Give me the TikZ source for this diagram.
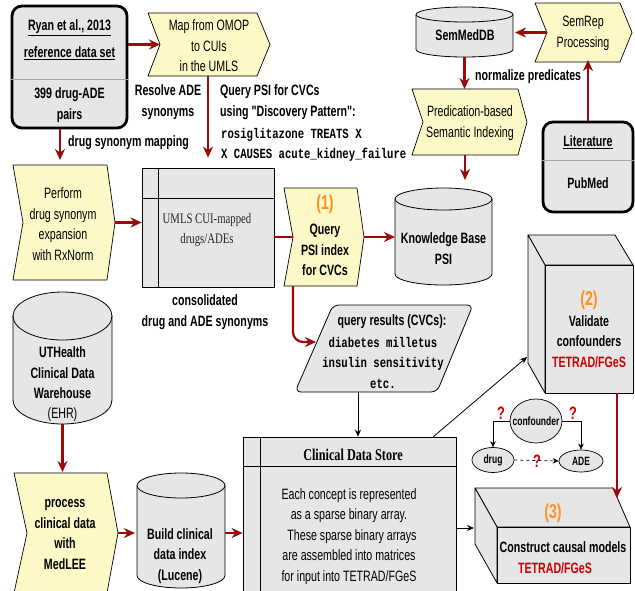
\documentclass[tikz,border=0pt]{standalone}
\usepackage{fontspec}
\usetikzlibrary{arrows.meta,calc,shapes.geometric}
\newfontfamily\cf{Liberation Sans}[FakeStretch=0.71]
\newfontfamily\mf{Liberation Mono}[FakeStretch=0.76]
\newfontfamily\srf{Liberation Serif}[FakeStretch=0.74]
\definecolor{gr}{HTML}{E6E6E6}
\definecolor{yel}{HTML}{FCF9C6}
\definecolor{dred}{HTML}{9B0A0A}
\definecolor{orng}{HTML}{FF9021}
\definecolor{tred}{HTML}{CC0000}
% chevron: name, cx, cy, w, h, notch, point
\newcommand\mychev[7]{%
  \node[inner sep=0pt, outer sep=0pt, minimum width=#4pt, minimum height=#5pt] (#1) at (#2,#3) {};
  \draw[line width=0.7pt, fill=yel, line join=round] (#1.north west) -- (#1.north east) -- ([xshift=#7pt]#1.east) -- (#1.south east) -- (#1.south west) -- ([xshift=#6pt]#1.west) -- cycle;
  \coordinate (#1-in) at ([xshift=#6pt]#1.west);
  \coordinate (#1-out) at ([xshift=#7pt]#1.east);
}
% cylinder: name, cx, cy, w, h, ry
\newcommand\mycyl[6]{%
  \node[inner sep=0pt, outer sep=0pt, minimum width=#4pt, minimum height=#5pt] (#1) at (#2,#3) {};
  \draw[line width=0.8pt, fill=gr] ([yshift=-#6pt]#1.north west) -- ([yshift=#6pt]#1.south west)
    arc[start angle=180, end angle=360, x radius=#4pt/2, y radius=#6pt]
    -- ([yshift=-#6pt]#1.north east)
    arc[start angle=0, end angle=180, x radius=#4pt/2, y radius=#6pt] -- cycle;
  \draw[line width=0.8pt] ([yshift=-#6pt]#1.north west) arc[start angle=180, end angle=360, x radius=#4pt/2, y radius=#6pt];
}
\begin{document}
\begin{tikzpicture}[x=1pt,y=-1pt,
  t/.style={inner sep=0pt, align=center, font=\cf\fontsize{15}{20.5}\selectfont},
  tb/.style={inner sep=0pt, align=center, font=\cf\bfseries\fontsize{15}{20.5}\selectfont},
  tm/.style={inner sep=0pt, align=left, font=\mf\bfseries\fontsize{14}{20.5}\selectfont},
  tmc/.style={inner sep=0pt, align=center, font=\mf\bfseries\fontsize{14}{20.5}\selectfont},
  num/.style={inner sep=0pt, text=orng, font=\cf\bfseries\fontsize{20}{22}\selectfont},
  tet/.style={inner sep=0pt, text=tred, font=\cf\bfseries\fontsize{15}{20}\selectfont},
  qm/.style={inner sep=0pt, text=tred, font=\cf\bfseries\fontsize{18}{20}\selectfont},
  small/.style={inner sep=0pt, font=\cf\bfseries\fontsize{12}{13}\selectfont},
  box/.style={draw=black, line width=0.8pt, fill=gr, line join=round},
  rbox/.style={draw=black, line width=2.8pt, fill=gr, rounded corners=10pt, inner sep=0pt},
  ell/.style={draw=black, line width=0.7pt, fill=gr, ellipse, inner sep=0pt},
  rarr/.style={draw=dred, line width=2.2pt, -{Stealth[length=11pt,width=10pt]}},
  rline/.style={draw=dred, line width=2.2pt},
  barr/.style={draw=black, line width=0.8pt, -{Stealth[length=7pt,width=6pt]}},
  sarr/.style={draw=black, line width=0.7pt, -{Stealth[length=6pt,width=5.5pt]}},
]
\useasboundingbox (0,0) rectangle (635,590);
\fill[white] (0,0) rectangle (635,590);

% ---------- Ryan box ----------
\node[rbox, minimum width=115pt, minimum height=122pt] (ryan) at (69.5,67) {};
\draw[line width=0.6pt, black!35] ([yshift=-75pt]ryan.north west) -- ([yshift=-75pt]ryan.north east);
\node[tb] (ryan-t) at (69.5,40) {\underline{Ryan et al., 2013}\\[6.5pt]\underline{reference data set}};
\node[tb] (ryan-b) at (69.5,105) {399 drug-ADE\\pairs};

% ---------- Literature box ----------
\node[rbox, minimum width=90pt, minimum height=90pt] (lit) at (588,167) {};
\draw[line width=0.6pt, black!35] ([yshift=-40pt]lit.north west) -- ([yshift=-40pt]lit.north east);
\node[tb] (lit-t) at (588,142) {\underline{Literature}};
\node[tb] (lit-b) at (588,183) {PubMed};

% ---------- chevrons ----------
\mychev{map}{202.5}{44.5}{109}{63}{12}{13}
\node[t] (map-t) at (209,46) {Map from OMOP\\to CUIs\\in the UMLS};

\mychev{perform}{60}{222.5}{94}{115}{10}{8}
\node[t] (perform-t) at (63,224) {Perform\\drug synonym\\expansion\\with RxNorm};

\mychev{q1}{320.5}{237}{73}{98}{9}{7}
\node[num] (q1-n) at (325,204) {(1)};
\node[tb] (q1-t) at (325,250) {Query\\PSI index\\for CVCs};

\mychev{semrep}{577.5}{32.5}{85}{59}{12}{12}
\node[t] (semrep-t) at (583,33.5) {SemRep\\Processing};

\mychev{pred}{465}{122}{106}{66}{11}{9}
\node[t] (pred-t) at (470,123) {Predication-based\\Semantic Indexing};

\mychev{process}{60.5}{533}{93}{120}{13}{11}
\node[tb] (process-t) at (65,534.5) {process\\clinical data\\with\\MedLEE};

% ---------- cylinders ----------
\mycyl{semmed}{464.5}{32}{97}{50}{7.5}
\node[tb] (semmed-t) at (465,35) {SemMedDB};

\mycyl{kb}{443.5}{236.5}{97}{97}{11}
\node[tb] (kb-t) at (443.5,248.5) {Knowledge Base\\PSI};

\mycyl{uth}{62.5}{358}{99}{132}{24}
\node[tb] (uth-t) at (62.5,373) {UTHealth\\Clinical Data\\Warehouse};
\node[t] (uth-e) at (62.5,415) {(EHR)};

\mycyl{build}{181}{530.5}{88}{115}{12.5}
\node[tb] (build-t) at (180,556) {Build clinical\\data index\\(Lucene)};

% ---------- internal storage boxes ----------
\node[box, minimum width=132pt, minimum height=119pt, inner sep=0pt] (umls) at (208,227.5) {};
\draw[line width=0.8pt] ([xshift=17pt]umls.north west) -- ([xshift=17pt]umls.south west);
\draw[line width=0.8pt] ([yshift=-31pt]umls.north west) -- ([yshift=-31pt]umls.north east);
\node[inner sep=0pt, align=center, text=black!85, font=\srf\fontsize{14.5}{20}\selectfont] (umls-t) at (207,230) {UMLS CUI-mapped\\drugs/ADEs};
\node[tb] (cons) at (205,312) {consolidated\\drug and ADE synonyms};

\node[box, minimum width=213pt, minimum height=163pt, inner sep=0pt] (cds) at (349.5,518.5) {};
\draw[line width=0.8pt] ([xshift=18pt]cds.north west) -- ([xshift=18pt]cds.south west);
\draw[line width=0.8pt] ([yshift=-30pt]cds.north west) -- ([yshift=-30pt]cds.north east);
\node[inner sep=0pt, font=\srf\bfseries\fontsize{16.5}{20}\selectfont] (cds-h) at (353,455) {Clinical Data Store};
\node[t] (cds-t) at (349,536.5) {Each concept is represented\\as a sparse binary array.\\\ \ These sparse binary arrays\\are assembled into matrices\\for input into TETRAD/FGeS};

% ---------- query results parallelogram ----------
\node[inner sep=0pt, minimum width=178pt, minimum height=87pt] (qres) at (384,348.5) {};
\draw[box, rounded corners=6pt] (333,305) -- (473,305) -- (437,392) -- (295,392) -- cycle;
\node[tb] (qres-h) at (392,322) {query results (CVCs):};
\node[tmc] (qres-t) at (383,362.5) {diabetes milletus\\insulin sensitivity\\etc.};

% ---------- cuboid (2) ----------
\draw[box] (528,235) -- (615,235) -- (633,265) -- (545,265) -- cycle;
\draw[box] (528,235) -- (545,265) -- (545,393) -- (528,363) -- cycle;
\node[box, minimum width=88pt, minimum height=128pt, inner sep=0pt] (c2) at (589,329) {};
\node[num] (c2-n) at (589,300) {(2)};
\node[tb] (c2-t) at (589,331) {Validate\\confounders};
\node[tet] (c2-r) at (589,362) {TETRAD/FGeS};

% ---------- cuboid (3) ----------
\draw[box] (475,488) -- (613,488) -- (630,527) -- (497,527) -- cycle;
\draw[box] (475,488) -- (497,527) -- (497,583) -- (475,544) -- cycle;
\node[box, minimum width=133pt, minimum height=56pt, inner sep=0pt] (c3) at (563.5,555) {};
\node[num] (c3-n) at (553,513) {(3)};
\node[tb] (c3-t) at (563,547) {Construct causal models};
\node[tet] (c3-r) at (555,568) {TETRAD/FGeS};

% ---------- mini causal diagram ----------
\node[ell, minimum width=52pt, minimum height=44pt] (conf) at (536,421) {};
\node[small] (conf-t) at (536,421) {confounder};
\node[ell, minimum width=42pt, minimum height=25pt] (drug) at (493,460) {};
\node[small] (drug-t) at (493,460) {drug};
\node[ell, minimum width=44pt, minimum height=22pt] (ade) at (581,461) {};
\node[small] (ade-t) at (581,461) {ADE};
\draw[sarr] (conf.west) -| (drug.north);
\draw[sarr] (conf.east) -| (ade.north);
\draw[sarr, dashed] (drug.east) -- (ade.west);
\node[qm] (qa) at (501,413) {?};
\node[qm] (qb) at (573,413) {?};
\node[qm] (qc) at (537,461) {?};

% ---------- free labels ----------
\node[tb] (resolve) at (168,102) {Resolve ADE\\synonyms};
\node[tb, anchor=west, align=left] (qlab) at (220,102) {Query PSI for CVCs\\using "Discovery Pattern":};
\node[tm, anchor=west] (qpat) at (221,145) {rosiglitazone TREATS X\\X CAUSES acute\_kidney\_failure};
\node[tb, anchor=west] (dsm) at (68,143) {drug synonym mapping};
\node[tb, anchor=west] (np) at (475,77) {normalize predicates};

% ---------- coordinates ----------
\coordinate (qres-in) at (316,342);
\coordinate (qres-b) at (358,392);
\coordinate (cds-tr) at (433,437);
\coordinate (c2-l) at (527,357);
\coordinate (c3-l) at (474,528);
\coordinate (c2-b) at (617,393);
\coordinate (c3-t) at (617,498);

% ---------- connectors ----------
\draw[rarr] (ryan.east |- map-in) -- (map-in);
\draw[rarr] (ryan.south -| perform.north) -- ([yshift=5pt]perform.north);
\draw[rarr] (map.south -| umls.north) -- ([yshift=10pt]umls.north);
\draw[rarr] (perform-out) -- (umls.west |- perform-out);
\draw[rline] (umls.east |- q1-in) -- (q1-in);
\draw[rarr] (q1-out) -- (kb.west |- q1-out);
\draw[rarr, rounded corners=10pt] (q1.south -| q1-in) |- (qres-in);
\draw[rarr] (semmed.south) -- (pred.north -| semmed.south);
\draw[rarr] (pred.south) -- ([yshift=8pt]kb.north -| pred.south);
\draw[rarr] (semrep-in) -- ([xshift=2pt]semmed.east |- semrep-in);
\draw[rarr] (lit.north) -- ([yshift=2pt]semrep.south -| lit.north);
\draw[rarr] (c2-b) -- (c3-t);
\draw[rarr] (uth.south) -- ([yshift=1pt]process.north -| uth.south);
\draw[rarr] (process-out) -- ([xshift=-2pt]build.west |- process-out);
\draw[rarr] (build.east |- process-out) -- (cds.west |- process-out);
\draw[barr] (qres-b) -- (qres-b |- cds.north);
\draw[barr] (cds-tr) -- (c2-l);
\draw[barr] (cds.east |- c3-l) -- (c3-l);
\end{tikzpicture}
\end{document}
